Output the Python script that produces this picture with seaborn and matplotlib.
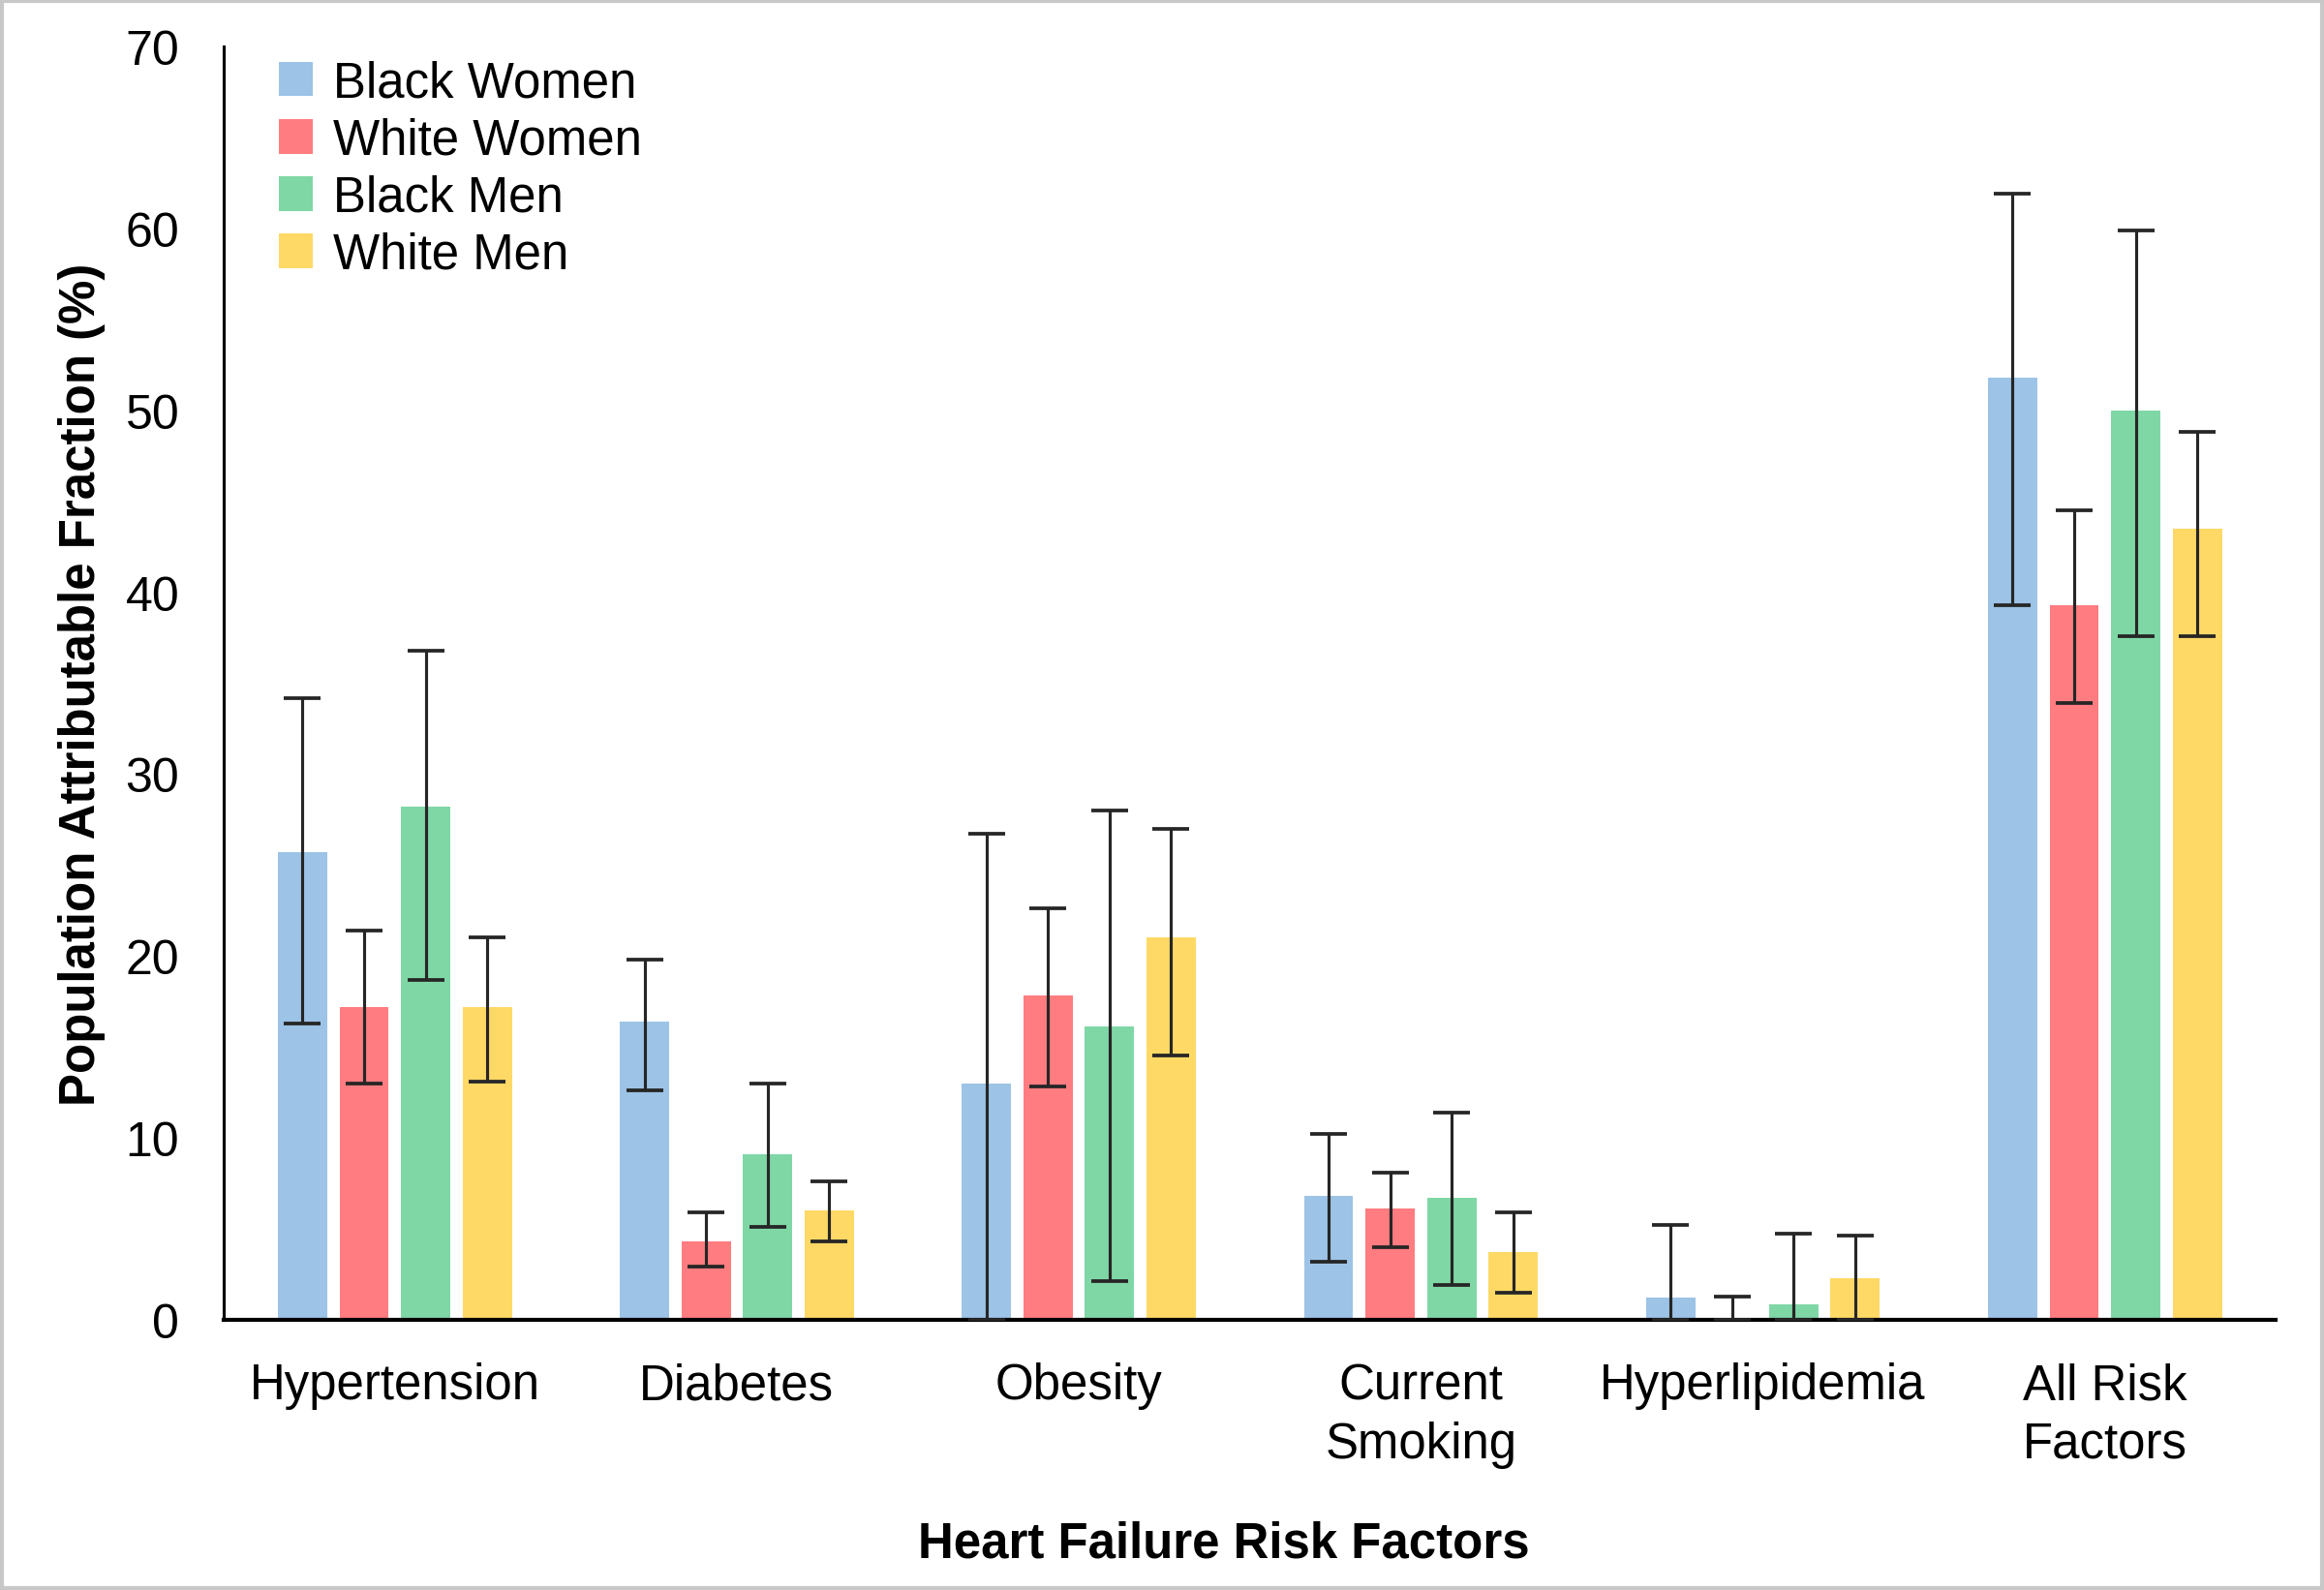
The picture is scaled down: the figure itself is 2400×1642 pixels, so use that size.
import pandas as pd
import matplotlib.pyplot as plt
import matplotlib.patches as mpatches
import seaborn as sns
import numpy as np

# Datos (PAF %, limite inferior y superior del IC)
factores = ['Hypertension', 'Diabetes', 'Obesity', 'Current\nSmoking', 'Hyperlipidemia', 'All Risk\nFactors']
grupos = ['Black Women', 'White Women', 'Black Men', 'White Men']

black_women = [25.7, 16.4, 13.0, 6.8, 1.2, 51.8]
white_women = [17.2, 4.3, 17.8, 6.1, 0.0, 39.3]
black_men = [28.2, 9.1, 16.1, 6.7, 0.85, 50.0]
white_men = [17.2, 6.0, 21.0, 3.7, 2.3, 43.5]

bw_low = [16.3, 12.6, 0.0, 3.2, 0.0, 39.3]
bw_high = [34.2, 19.8, 26.7, 10.2, 5.2, 61.9]
ww_low = [13.0, 2.9, 12.8, 4.0, 0.0, 33.9]
ww_high = [21.4, 5.9, 22.6, 8.1, 1.25, 44.5]
bm_low = [18.7, 5.1, 2.1, 1.9, 0.0, 37.6]
bm_high = [36.8, 13.0, 28.0, 11.4, 4.7, 59.9]
wm_low = [13.1, 4.3, 14.5, 1.5, 0.0, 37.6]
wm_high = [21.0, 7.6, 27.0, 5.9, 4.6, 48.8]

colores = ['#9DC3E6', '#FF7C80', '#7FD7A6', '#FFD966']

valores = [black_women, white_women, black_men, white_men]
bajos = [bw_low, ww_low, bm_low, wm_low]
altos = [bw_high, ww_high, bm_high, wm_high]

df = pd.DataFrame({
    'factor': np.repeat([factores], 4, axis=0).ravel(),
    'grupo': np.repeat(grupos, len(factores)),
    'paf': np.concatenate(valores),
})

plt.rcParams['font.family'] = ['Liberation Sans', 'DejaVu Sans']

fig = plt.figure(figsize=(16, 10.953), dpi=150)
ax = fig.add_axes([0.0963, 0.170, 0.883, 0.800])

sns.barplot(data=df, x='factor', y='paf', hue='grupo', order=factores, hue_order=grupos,
            palette=colores, errorbar=None, width=0.72, gap=0.2, saturation=1, ax=ax)

# Barras de error asimetricas sobre el centro de cada barra
for cont, val, lo, hi in zip(ax.containers, valores, bajos, altos):
    xs = [p.get_x() + p.get_width() / 2 for p in cont.patches]
    val = np.array(val)
    err = np.vstack([val - np.array(lo), np.array(hi) - val])
    ax.errorbar(xs, val, yerr=err, fmt='none', ecolor='#262626', elinewidth=1.5,
                capsize=9, capthick=1.8, zorder=5, clip_on=True)

ax.set_ylim(0, 70)
ax.set_xlim(-0.5, 5.5)
ax.set_yticks(range(0, 71, 10))
ax.tick_params(axis='y', length=0, pad=22, labelsize=24)
ax.tick_params(axis='x', length=0, pad=21, labelsize=24.5)
for lbl in ax.get_xticklabels():
    lbl.set_linespacing(1.3)
for s in ['top', 'right']:
    ax.spines[s].set_visible(False)
ax.spines['left'].set_linewidth(1.5)
ax.spines['bottom'].set_linewidth(2)

ax.set_ylabel('Population Attributable Fraction (%)', fontsize=24.5, fontweight='bold', labelpad=10)
ax.set_xlabel('Heart Failure Risk Factors', fontsize=24.5, fontweight='bold')
ax.xaxis.set_label_coords(0.4875, -0.1575)

leg = ax.legend(loc='upper left', bbox_to_anchor=(0.005, 1.025), frameon=False, fontsize=24.5,
                handlelength=0.7, handleheight=0.7, handletextpad=0.4, labelspacing=0.2)

# Borde gris claro alrededor de la figura
fig.patches.append(mpatches.Rectangle((0.001, 0.001), 0.998, 0.998, transform=fig.transFigure,
                                      fill=False, edgecolor='#c8c8c8', linewidth=2))

plt.savefig('out.png', dpi=150, facecolor='white')
plt.close()
